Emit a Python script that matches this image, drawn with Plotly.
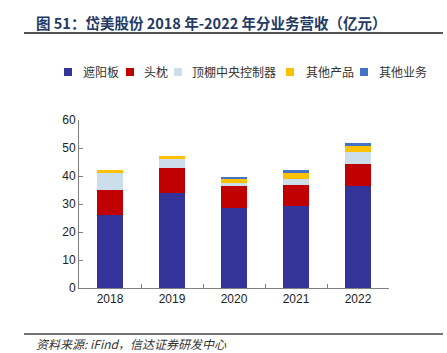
import plotly.graph_objects as go

years = ["2018", "2019", "2020", "2021", "2022"]
sunvisor = [26.1, 34.0, 28.7, 29.3, 36.5]
headrest = [8.9, 8.7, 7.8, 7.4, 7.8]
console = [6.0, 3.3, 1.1, 2.1, 4.4]
other_products = [1.1, 1.3, 1.2, 2.2, 2.1]
other_business = [0.0, 0.0, 0.8, 1.1, 0.9]

series_names = ["遮阳板", "头枕", "顶棚中央控制器", "其他产品", "其他业务"]
series_values = [sunvisor, headrest, console, other_products, other_business]
colors = ["#333399", "#C00000", "#CCDDEB", "#FFC000", "#4472C4"]

y_ticks = [0, 10, 20, 30, 40, 50, 60]

W, H = 447, 353
ML, MR, MT, MB = 79, 58, 120, 65
PW, PH = W - ML - MR, H - MT - MB


def px_x(p):
    return (p - ML) / PW


def px_y(p):
    return (H - MB - p) / PH


fig = go.Figure()
for name, vals, col in zip(series_names, series_values, colors):
    fig.add_trace(go.Bar(
        x=years, y=vals, name=name,
        marker=dict(color=col, line=dict(width=0)),
        width=0.42, showlegend=False,
    ))

font_cjk = "Noto Sans CJK SC, Liberation Sans, sans-serif"

fig.update_layout(
    barmode="stack",
    width=W, height=H,
    margin=dict(l=ML, r=MR, t=MT, b=MB),
    plot_bgcolor="white", paper_bgcolor="white",
    xaxis=dict(
        type="category",
        showline=True, linecolor="#808080", linewidth=1,
        ticks="inside", ticklen=4, tickcolor="#808080", tickson="boundaries",
        tickfont=dict(family="Liberation Sans, Arial", size=12, color="#222222"),
        showgrid=False, zeroline=False,
    ),
    yaxis=dict(
        range=[0, 60], tickvals=y_ticks,
        showline=True, linecolor="#808080", linewidth=1,
        ticks="inside", ticklen=4, tickcolor="#808080",
        tickfont=dict(family="Liberation Sans, Arial", size=12, color="#222222"),
        showgrid=False, zeroline=False,
    ),
    font=dict(family=font_cjk),
)

# manual legend (layout positions in pixels)
legend_square_x = [68, 130, 178, 290, 364]
legend_text_x = [81, 142, 190, 304, 377]
legend_y = 72
for name, col, sx, tx in zip(series_names, colors, legend_square_x, legend_text_x):
    fig.add_shape(type="rect", xref="paper", yref="paper",
                  x0=px_x(sx - 4), x1=px_x(sx + 4),
                  y0=px_y(legend_y + 4), y1=px_y(legend_y - 4),
                  line=dict(width=0), fillcolor=col)
    fig.add_annotation(xref="paper", yref="paper", x=px_x(tx), y=px_y(legend_y),
                       xanchor="left", yanchor="middle", text=name, showarrow=False,
                       font=dict(family=font_cjk, size=12, color="#333333"))

fig.add_annotation(
    xref="paper", yref="paper", x=px_x(34), y=px_y(22), xanchor="left", yanchor="middle",
    text="<b>图 51：岱美股份 2018 年-2022 年分业务营收（亿元）</b>",
    showarrow=False, font=dict(family=font_cjk, size=14.5, color="#243A64"),
)
fig.add_shape(type="line", xref="paper", yref="paper",
              x0=px_x(24), x1=px_x(443), y0=px_y(33), y1=px_y(33),
              line=dict(color="#555555", width=2))
fig.add_shape(type="line", xref="paper", yref="paper",
              x0=px_x(24), x1=px_x(443), y0=px_y(334), y1=px_y(334),
              line=dict(color="#444444", width=1.5))
fig.add_annotation(
    xref="paper", yref="paper", x=px_x(34), y=px_y(343), xanchor="left", yanchor="middle",
    text="<i>资料来源: iFind，信达证券研发中心</i>",
    showarrow=False, font=dict(family=font_cjk, size=12, color="#333333"),
)

fig.write_html("out.html")
